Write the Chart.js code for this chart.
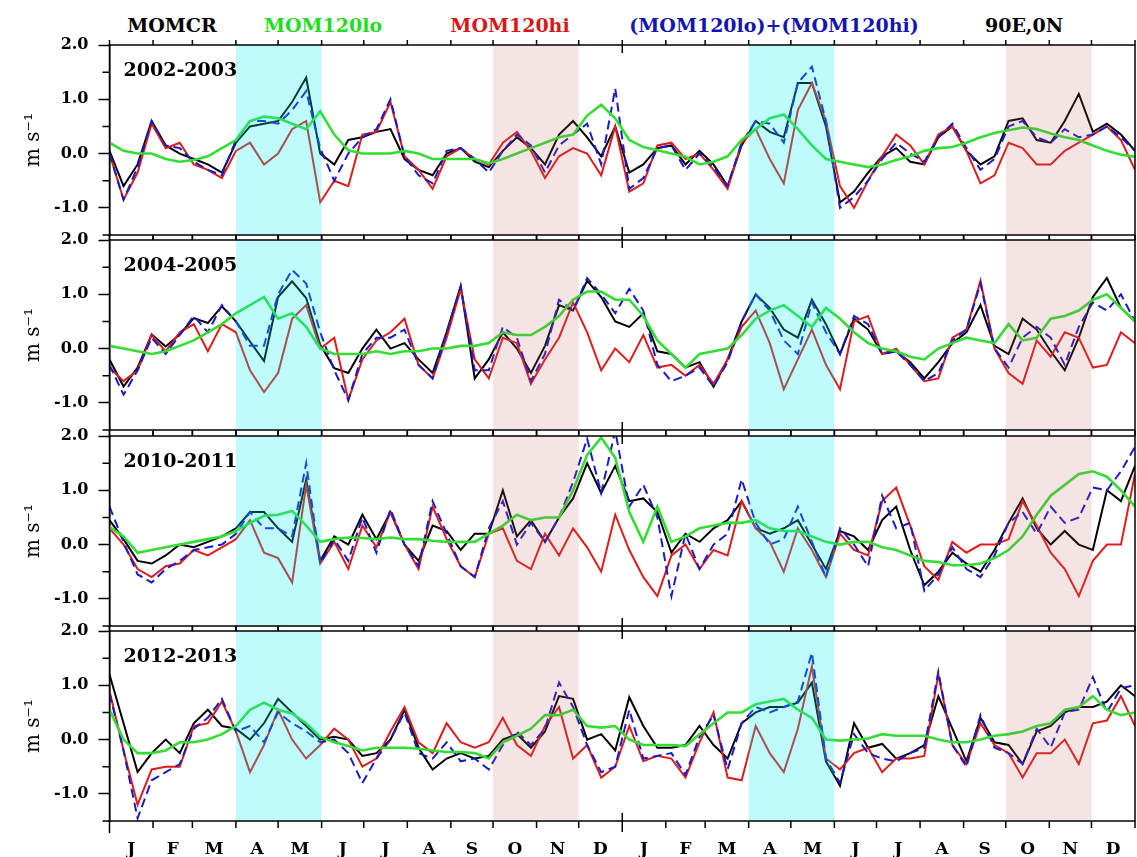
<!DOCTYPE html>
<html lang="en">
<head>
<meta charset="UTF-8">
<title>Zonal current at 90E,0N</title>
<script src="https://cdn.jsdelivr.net/npm/chart.js"></script>
<style>
  html, body { margin: 0; padding: 0; background: #fff; overflow: hidden; }
  body { position: relative; width: 1137px; height: 857px; font-family: 'DejaVu Serif', serif; }
  .head { position: absolute; top: 16px; line-height: 19px; font-size: 19px; font-weight: bold; white-space: nowrap; transform: translateX(-50%); }
  canvas { position: absolute; left: 0; }
</style>
</head>
<body>
  <div class="head" style="left:172px;color:#000">MOMCR</div>
  <div class="head" style="left:323px;color:#22dd22">MOM120lo</div>
  <div class="head" style="left:510px;color:#d81818">MOM120hi</div>
  <div class="head" style="left:774px;color:#1515b0">(MOM120lo)+(MOM120hi)</div>
  <div class="head" style="left:1024px;color:#000">90E,0N</div>

  <canvas id="c0203"></canvas>
  <canvas id="c0405"></canvas>
  <canvas id="c1011"></canvas>
  <canvas id="c1213"></canvas>

<script>
// days since 1 Jan of the first year, one sample every 10 days
const STEP = 10;
const monthStarts = [0, 31, 59, 90, 120, 151, 181, 212, 243, 273, 304, 334, 365,
  396, 424, 455, 485, 516, 546, 577, 608, 638, 669, 699, 730];
const monthLabels = ['J','F','M','A','M','J','J','A','S','O','N','D',
  'J','F','M','A','M','J','J','A','S','O','N','D'];
const yMajor = [2, 1, 0, -1];
const yMinor = [1.5, 0.5, -0.5, -1.5];

// shaded seasons (Apr-May cyan, Oct-Nov pink), in days
const cyanSpans = [[90, 151], [455, 516]];
const pinkSpans = [[273, 334], [638, 699]];

// 2002-2003
const cr0203 = [0.05,-0.6,-0.2,0.6,0.15,0.0,-0.1,-0.2,-0.35,0.2,0.5,0.55,0.6,0.95,1.4,0.0,-0.2,0.25,0.3,0.4,0.45,-0.1,-0.3,-0.4,0.0,0.1,-0.15,-0.25,0.05,0.3,0.1,-0.2,0.35,0.6,0.3,-0.05,0.5,-0.35,-0.2,0.1,0.15,-0.2,0.05,-0.2,-0.6,0.15,0.6,0.4,0.3,1.3,1.3,0.5,-0.9,-0.7,-0.35,-0.05,0.1,-0.15,-0.2,0.3,0.5,0.05,-0.2,-0.05,0.6,0.65,0.25,0.2,0.6,1.1,0.4,0.55,0.35,0.05];
const lo0203 = [0.2,0.05,0.0,0.0,-0.1,-0.15,-0.12,-0.05,0.1,0.25,0.6,0.68,0.65,0.55,0.45,0.78,0.35,0.06,0.0,0.0,0.0,0.05,0.0,-0.1,-0.1,-0.1,-0.1,-0.18,-0.1,0.0,0.1,0.2,0.3,0.35,0.7,0.9,0.65,0.25,0.12,0.06,0.0,-0.06,-0.2,-0.15,-0.05,0.25,0.45,0.65,0.72,0.45,0.15,-0.1,-0.15,-0.2,-0.25,-0.2,-0.12,-0.05,0.05,0.1,0.12,0.2,0.3,0.38,0.43,0.48,0.45,0.37,0.3,0.25,0.15,0.05,-0.02,-0.06];
const hi0203 = [0.0,-0.85,-0.35,0.55,0.1,0.2,-0.2,-0.3,-0.45,0.05,0.2,-0.2,0.0,0.45,0.6,-0.9,-0.5,-0.6,0.35,0.4,0.95,-0.05,-0.3,-0.65,-0.05,0.1,-0.1,-0.2,0.2,0.4,0.05,-0.45,-0.05,0.1,0.0,-0.4,0.5,-0.7,-0.55,0.15,0.2,-0.1,0.0,-0.3,-0.65,0.2,0.45,-0.1,-0.55,0.8,1.3,0.6,-0.6,-1.0,-0.5,-0.05,0.35,0.15,-0.2,0.35,0.5,0.05,-0.55,-0.4,0.2,0.1,-0.2,-0.2,0.05,0.2,0.35,0.5,0.25,-0.3];
const sum0203 = [0.0,-0.85,-0.25,0.6,0.15,0.1,-0.15,-0.3,-0.4,0.25,0.6,0.6,0.55,0.8,1.15,0.1,-0.5,0.0,0.3,0.45,1.0,-0.05,-0.4,-0.55,0.05,0.1,-0.1,-0.35,0.05,0.35,0.15,-0.35,0.15,0.35,0.55,-0.2,1.2,-0.65,-0.45,0.1,0.15,-0.3,0.0,-0.25,-0.6,0.2,0.6,0.55,0.2,1.3,1.6,0.6,-1.0,-0.8,-0.5,-0.1,0.2,0.0,-0.15,0.3,0.55,0.1,-0.3,-0.1,0.5,0.6,0.3,0.2,0.45,0.3,0.35,0.5,0.3,0.05];

// 2004-2005
const cr0405 = [-0.2,-0.7,-0.35,0.26,0.04,0.26,0.56,0.47,0.78,0.5,0.13,-0.23,0.95,1.24,0.93,0.07,-0.36,-0.45,0.0,0.35,0.0,0.1,-0.2,-0.45,0.3,1.15,-0.55,-0.2,0.3,0.0,-0.45,0.05,0.8,0.7,1.25,0.95,0.5,0.4,0.65,-0.05,-0.1,-0.35,-0.25,-0.7,-0.2,0.5,1.0,0.75,0.35,0.2,0.9,0.45,-0.1,0.55,0.35,-0.1,-0.05,-0.25,-0.55,-0.25,0.1,0.3,0.8,0.05,-0.1,0.55,0.35,-0.05,-0.4,0.2,0.95,1.3,0.75,0.5];
const lo0405 = [0.05,0.0,-0.05,-0.1,-0.05,0.05,0.15,0.3,0.45,0.65,0.8,0.95,0.55,0.65,0.4,0.0,-0.1,-0.1,-0.1,-0.05,-0.1,-0.05,-0.05,0.0,0.0,0.05,0.05,0.1,0.3,0.25,0.25,0.4,0.6,0.9,1.05,1.05,0.9,0.9,0.6,0.15,-0.1,-0.35,-0.1,-0.05,0.0,0.25,0.55,0.7,0.8,0.6,0.4,0.75,0.55,0.3,0.1,0.0,-0.05,-0.15,-0.2,0.0,0.1,0.2,0.15,0.1,0.45,0.15,0.2,0.55,0.6,0.7,0.9,1.0,0.75,0.5];
const hi0405 = [-0.35,-0.6,-0.4,0.25,-0.05,0.3,0.45,-0.05,0.45,0.3,-0.4,-0.8,-0.45,0.55,0.8,0.0,0.2,-0.95,-0.2,0.15,0.3,0.55,-0.3,-0.55,0.2,1.1,-0.2,-0.55,0.2,0.1,-0.65,-0.2,0.2,0.85,0.3,-0.4,0.0,-0.25,0.25,-0.35,-0.3,-0.5,-0.3,-0.65,-0.2,0.4,0.7,0.1,-0.75,-0.2,0.35,-0.3,-0.75,0.5,0.6,-0.1,0.0,-0.3,-0.6,-0.55,0.2,0.35,1.25,0.0,-0.45,-0.65,0.15,-0.15,0.3,0.2,-0.35,-0.3,0.3,0.1];
const sum0405 = [-0.3,-0.85,-0.4,0.2,-0.1,0.25,0.6,0.3,0.8,0.5,0.05,0.05,1.0,1.45,1.2,0.3,-0.4,-0.95,-0.1,0.2,0.2,0.35,-0.3,-0.55,0.3,1.15,-0.4,-0.4,0.4,0.2,-0.6,-0.1,0.9,0.7,1.3,1.0,0.65,1.1,0.7,-0.3,-0.6,-0.5,-0.35,-0.7,-0.25,0.5,1.0,0.7,0.15,-0.1,0.85,0.3,-0.1,0.6,0.45,-0.1,-0.05,-0.3,-0.6,-0.45,0.15,0.35,1.2,0.0,-0.35,0.2,0.4,0.2,-0.3,0.4,0.85,0.7,1.0,0.5];

// 2010-2011
const cr1011 = [0.45,0.1,-0.3,-0.35,-0.2,0.0,-0.05,0.05,0.15,0.3,0.6,0.6,0.3,0.05,1.2,-0.3,0.15,0.0,0.55,0.1,0.6,0.0,-0.3,0.35,0.25,-0.1,0.2,0.2,1.0,0.15,0.45,0.05,0.5,0.85,1.5,0.95,1.45,0.8,0.85,0.6,-0.15,0.2,0.05,0.3,0.45,0.8,0.3,0.2,0.3,0.45,0.0,-0.45,0.25,0.15,-0.1,0.45,0.7,-0.1,-0.75,-0.5,-0.15,-0.35,-0.5,-0.1,0.4,0.85,0.3,0.0,0.25,0.0,-0.1,1.0,0.8,1.45];
const lo1011 = [0.32,0.15,-0.15,-0.1,-0.05,0.0,0.05,0.1,0.15,0.25,0.4,0.53,0.55,0.62,0.35,0.05,0.1,0.13,0.12,0.1,0.13,0.1,0.1,0.07,0.05,0.05,0.05,0.2,0.35,0.55,0.45,0.5,0.5,1.0,1.65,1.97,1.6,0.6,0.05,0.7,0.05,0.15,0.3,0.35,0.4,0.4,0.45,0.3,0.25,0.25,0.15,0.05,0.0,0.05,0.05,-0.05,-0.1,-0.2,-0.3,-0.32,-0.38,-0.38,-0.35,-0.25,-0.1,0.15,0.55,0.9,1.1,1.3,1.35,1.25,1.0,0.7];
const hi1011 = [0.3,0.0,-0.45,-0.6,-0.4,-0.35,-0.1,-0.2,-0.05,0.1,0.45,-0.15,-0.25,-0.7,1.1,-0.35,0.05,-0.45,0.35,-0.05,0.6,0.0,-0.45,0.7,0.1,-0.4,-0.6,0.2,0.3,-0.3,-0.45,0.2,-0.2,0.3,-0.05,-0.5,0.55,-0.1,-0.6,-0.95,-0.2,0.0,-0.45,-0.1,-0.2,0.8,0.3,0.05,-0.5,0.3,-0.1,-0.6,0.2,-0.1,-0.2,0.8,1.05,0.35,-0.4,-0.65,0.05,-0.15,0.0,0.0,0.1,0.8,0.35,-0.15,-0.45,-0.95,-0.3,0.0,0.0,1.3];
const sum1011 = [0.7,0.05,-0.55,-0.7,-0.45,-0.3,-0.1,-0.05,0.0,0.2,0.6,0.3,0.3,0.15,1.5,-0.35,0.1,-0.3,0.5,-0.15,0.65,0.0,-0.4,0.8,0.2,-0.4,-0.6,0.3,0.8,0.0,0.4,0.05,0.5,1.15,1.95,0.95,2.1,0.7,1.1,0.5,-0.95,0.2,-0.45,0.0,0.2,1.2,0.4,0.0,0.1,0.7,0.05,-0.6,0.3,0.0,-0.4,0.9,0.3,0.4,-0.85,-0.55,-0.05,-0.45,-0.6,-0.2,0.4,0.6,0.2,0.7,0.4,0.5,1.05,1.0,1.35,1.8];

// 2012-2013
const cr1213 = [1.2,0.3,-0.6,-0.25,0.0,-0.25,0.3,0.55,0.25,0.2,0.0,0.3,0.75,0.5,0.25,0.0,0.05,0.0,-0.3,-0.25,0.0,0.55,-0.15,-0.55,-0.35,-0.25,-0.35,-0.3,0.0,0.1,-0.15,0.15,0.8,0.75,0.0,0.1,-0.2,0.78,0.25,-0.15,-0.15,-0.1,0.25,-0.1,-0.35,0.3,0.5,0.6,0.6,0.68,1.05,-0.4,-0.85,0.3,-0.15,-0.08,-0.35,-0.25,-0.1,0.8,0.2,-0.4,0.4,-0.05,-0.1,-0.45,0.15,0.25,0.5,0.6,0.6,0.7,1.0,0.8];
const lo1213 = [0.55,0.0,-0.25,-0.25,-0.2,-0.05,-0.05,0.0,0.1,0.25,0.55,0.68,0.55,0.48,0.3,0.05,-0.05,-0.12,-0.2,-0.15,-0.15,-0.15,-0.17,-0.2,-0.23,-0.23,-0.25,-0.35,-0.05,0.07,0.2,0.45,0.45,0.55,0.25,0.22,0.25,0.0,-0.1,-0.1,-0.1,-0.12,0.1,0.3,0.5,0.5,0.65,0.7,0.75,0.55,0.4,0.0,-0.02,0.0,0.02,0.1,0.07,0.07,0.07,0.0,-0.05,-0.05,0.0,0.07,0.1,0.15,0.25,0.3,0.55,0.6,0.8,0.55,0.45,0.5];
const hi1213 = [0.9,-0.2,-1.2,-0.55,-0.5,-0.5,0.25,0.3,0.7,0.15,-0.6,-0.1,0.55,0.0,-0.35,-0.1,0.2,0.0,-0.5,-0.35,0.15,0.6,-0.05,-0.25,0.3,-0.05,-0.15,-0.05,0.4,-0.1,-0.3,0.25,0.6,-0.35,-0.1,-0.7,-0.5,0.25,-0.4,-0.3,-0.35,-0.7,-0.05,0.5,-0.7,-0.75,0.25,-0.25,-0.6,0.2,1.35,-0.35,-0.55,-0.25,-0.15,-0.6,-0.35,-0.35,-0.3,1.2,-0.1,-0.45,0.3,-0.1,-0.25,-0.7,-0.25,-0.25,0.0,-0.45,0.3,0.35,0.8,0.25];
const sum1213 = [0.85,-0.2,-1.45,-0.75,-0.6,-0.45,0.2,0.4,0.75,0.15,0.25,-0.05,0.5,0.3,0.15,-0.05,0.0,-0.25,-0.8,-0.35,0.0,0.5,-0.25,-0.35,-0.05,-0.4,-0.35,-0.55,-0.1,0.15,-0.1,0.2,1.05,0.6,-0.1,-0.6,-0.5,0.55,-0.35,-0.3,-0.25,-0.65,0.05,0.45,-0.55,0.3,0.6,0.5,0.6,0.7,1.6,-0.35,-0.8,0.1,-0.25,-0.35,-0.4,-0.25,-0.15,1.25,-0.1,-0.5,0.45,-0.15,-0.25,-0.45,0.2,-0.15,0.5,0.55,1.15,0.5,0.95,1.0];

const serif = 'DejaVu Serif';
Chart.defaults.font.family = serif;

// frame, month ticks, season shading (drawn over the lines) and year label
const panelDeco = {
  id: 'panelDeco',
  afterDatasetsDraw(chart, args, opts) {
    const { ctx, chartArea: a, scales: { x, y } } = chart;
    ctx.save();
    const shade = (spans, color) => {
      ctx.fillStyle = color;
      spans.forEach(([d0, d1]) => {
        const x0 = x.getPixelForValue(d0), x1 = x.getPixelForValue(d1);
        ctx.fillRect(x0, a.top, x1 - x0, a.bottom - a.top);
      });
    };
    shade(cyanSpans, 'rgba(0, 240, 240, 0.25)');
    shade(pinkSpans, 'rgba(196, 96, 96, 0.17)');

    ctx.strokeStyle = '#000';
    ctx.lineWidth = 1.5;
    ctx.strokeRect(a.left, a.top, a.right - a.left, a.bottom - a.top);

    ctx.beginPath();
    monthStarts.forEach(d => {
      const px = x.getPixelForValue(d);
      const len = (d === 365) ? 11 : 7;
      ctx.moveTo(px, a.top); ctx.lineTo(px, a.top - 5);
      ctx.moveTo(px, a.bottom); ctx.lineTo(px, a.bottom + (opts.last ? len : 5));
    });
    const mid = x.getPixelForValue(365);
    ctx.moveTo(mid, a.top); ctx.lineTo(mid, a.top + 8);
    ctx.moveTo(mid, a.bottom); ctx.lineTo(mid, a.bottom - 8);
    yMinor.forEach(v => {
      const py = y.getPixelForValue(v);
      ctx.moveTo(a.left, py); ctx.lineTo(a.left - 7, py);
    });
    if (opts.last) { ctx.moveTo(a.left, a.bottom); ctx.lineTo(a.left, a.bottom + 12); }
    ctx.stroke();

    ctx.fillStyle = '#000';
    ctx.font = 'bold 19px "' + serif + '"';
    ctx.textBaseline = 'alphabetic';
    ctx.fillText(opts.year, a.left + 14, a.top + 31);
    ctx.restore();
  }
};

function line(values, color, width, dash, order) {
  return {
    data: values.map((v, i) => ({ x: i * STEP, y: v })),
    borderColor: color,
    borderWidth: width,
    borderDash: dash,
    pointRadius: 0,
    tension: 0,
    order: order
  };
}

function makePanel(id, areaTop, year, cr, lo, hi, sum, last) {
  const cv = document.getElementById(id);
  cv.width = 1137;
  cv.height = last ? 236 : 210;
  cv.style.top = (areaTop - 10) + 'px';
  new Chart(cv, {
    type: 'line',
    data: {
      datasets: [
        line(lo, '#33dd33', 2.6, [], 1),
        line(sum, '#1a1ac8', 2, [9, 5], 2),
        line(hi, '#dd1c1c', 2, [], 3),
        line(cr, '#000000', 2, [], 4)
      ]
    },
    options: {
      responsive: false,
      animation: false,
      events: [],
      layout: { padding: { top: 10, right: 2, bottom: last ? 0 : 10, left: 0 } },
      plugins: {
        legend: { display: false },
        tooltip: { enabled: false },
        panelDeco: { year: year, last: last }
      },
      scales: {
        x: {
          type: 'linear', min: 0, max: 730,
          display: last,
          grid: { display: false, drawTicks: false },
          border: { display: false },
          afterBuildTicks: s => {
            s.ticks = monthStarts.slice(0, -1).map((d, i) => ({ value: (d + monthStarts[i + 1]) / 2 }));
          },
          afterFit: s => {
            s.height = last ? 36 : 0;
            s.paddingLeft = 0; s.paddingRight = 0;
          },
          ticks: {
            padding: 18, autoSkip: false, maxRotation: 0, color: '#000',
            font: { family: serif, size: 17, weight: 'bold' },
            callback: (v, i) => monthLabels[i]
          }
        },
        y: {
          min: -1.5, max: 2.0,
          afterBuildTicks: s => { s.ticks = yMajor.map(v => ({ value: v })); },
          afterFit: s => {
            s.width = 109.5;
            s.paddingTop = 0; s.paddingBottom = 0;
          },
          grid: { drawOnChartArea: false, tickLength: 11, tickWidth: 1.5, tickColor: '#000' },
          border: { display: true, color: '#000', width: 1.5 },
          ticks: {
            padding: 10, color: '#000',
            font: { family: serif, size: 16, weight: 'bold' },
            callback: v => v.toFixed(1)
          },
          title: {
            display: true, text: 'm s\u207B\u00B9', color: '#000',
            font: { family: serif, size: 20 },
            padding: { top: 22, bottom: 0 }
          }
        }
      }
    },
    plugins: [panelDeco]
  });
}

makePanel('c0203', 45, '2002-2003', cr0203, lo0203, hi0203, sum0203, false);
makePanel('c0405', 240, '2004-2005', cr0405, lo0405, hi0405, sum0405, false);
makePanel('c1011', 436, '2010-2011', cr1011, lo1011, hi1011, sum1011, false);
makePanel('c1213', 631, '2012-2013', cr1213, lo1213, hi1213, sum1213, true);
</script>
</body>
</html>
